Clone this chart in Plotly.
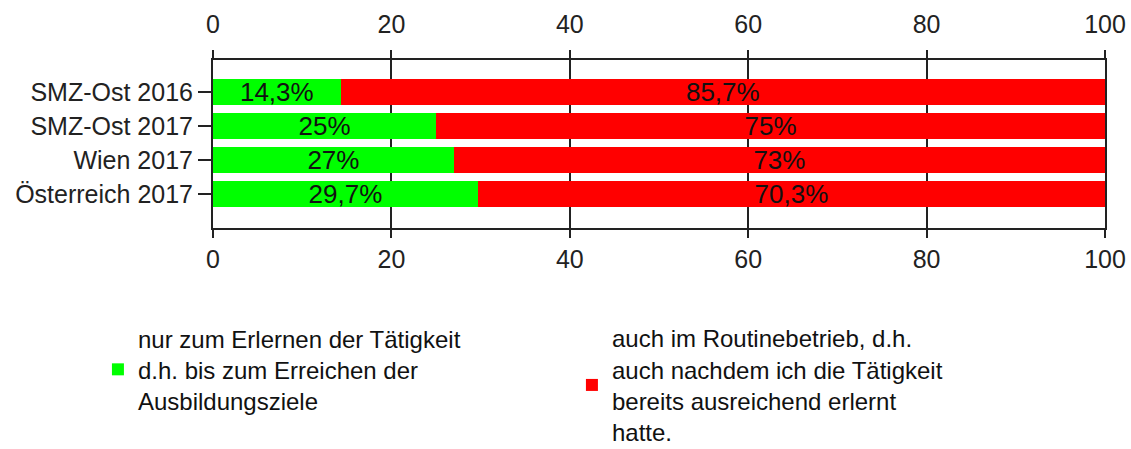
import plotly.graph_objects as go

categories = ["SMZ-Ost 2016", "SMZ-Ost 2017", "Wien 2017", "Österreich 2017"]
green_vals = [14.3, 25, 27, 29.7]
red_vals = [85.7, 75, 73, 70.3]
series_names = [
    "nur zum Erlernen der Tätigkeit<br>d.h. bis zum Erreichen der<br>Ausbildungsziele",
    "auch im Routinebetrieb, d.h.<br>auch nachdem ich die Tätigkeit<br>bereits ausreichend erlernt<br>hatte.",
]
x_ticks = [0, 20, 40, 60, 80, 100]

FONT = "Liberation Sans, Arial, sans-serif"


def lab(v):
    return f"{v:g}".replace(".", ",") + "%"


fig = go.Figure()
for vals, name, col in [(green_vals, series_names[0], "#00ff00"), (red_vals, series_names[1], "#ff0000")]:
    fig.add_trace(go.Bar(
        y=categories, x=vals, orientation="h", name=name,
        marker=dict(color=col, line=dict(width=0)),
        text=[lab(v) for v in vals], textposition="inside",
        insidetextanchor="middle", constraintext="none",
        textfont=dict(family=FONT, size=26, color="#111111"),
        textangle=0, width=0.75,
    ))

# invisible trace to carry the top axis
fig.add_trace(go.Scatter(x=[x_ticks[0], x_ticks[-1]], y=[categories[0], categories[0]],
                         xaxis="x2", mode="markers", marker=dict(opacity=0),
                         showlegend=False, hoverinfo="skip"))

axis_common = dict(
    range=[0, 100], tickvals=x_ticks, ticks="outside", ticklen=8, tickwidth=2,
    tickcolor="#222", linecolor="#222", linewidth=2, showline=True,
    tickfont=dict(family=FONT, size=25, color="#222"), zeroline=False,
)

fig.update_layout(
    width=1131, height=449,
    margin=dict(l=213, r=26, t=60, b=221, autoexpand=False),
    paper_bgcolor="white", plot_bgcolor="white",
    barmode="stack",
    showlegend=True,
    xaxis=dict(**axis_common, side="bottom", mirror=True, showgrid=True,
               gridcolor="#222", gridwidth=2, ticklabelstandoff=0),
    xaxis2=dict(**axis_common, side="top", overlaying="x", showgrid=False,
                ticklabelstandoff=7, matches="x"),
    yaxis=dict(type="category", categoryorder="array", categoryarray=categories,
               range=[4.0, -0.94], ticks="outside", ticklen=13, tickwidth=2,
               tickcolor="#222", showline=True, linecolor="#222", linewidth=2,
               mirror=True, showgrid=False,
               tickfont=dict(family=FONT, size=25, color="#222")),
    legend=dict(orientation="h", x=-0.129, y=-0.524, xanchor="left", yanchor="top",
                font=dict(family=FONT, size=24, color="#111"),
                entrywidth=429, entrywidthmode="pixels", valign="middle",
                traceorder="normal", bgcolor="rgba(0,0,0,0)"),
)

fig.write_html(
    "out.html",
    config={"displayModeBar": False},
    post_script="document.body.style.margin='0';document.body.style.overflow='hidden';",
)
